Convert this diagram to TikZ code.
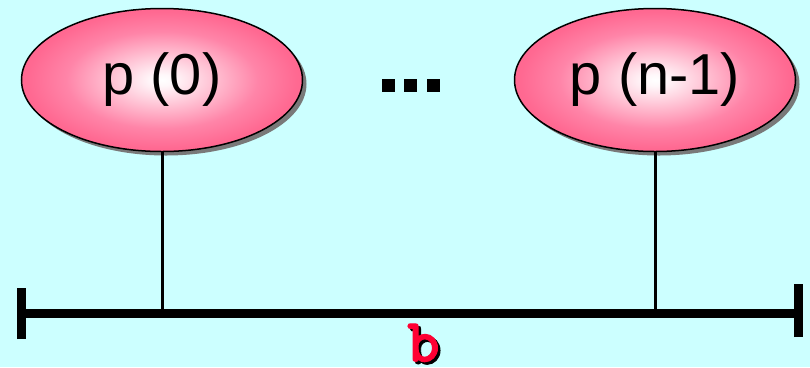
\documentclass[tikz,border=0pt]{standalone}
\usepackage{fontspec}
\setmainfont{Liberation Sans}
\newfontfamily\courb{lmmonolt10-bold.otf}[FakeBold=1.5]
\usetikzlibrary{shapes.geometric}
\definecolor{bgc}{RGB}{204,255,255}
\definecolor{pinkc}{RGB}{255,102,143}
\definecolor{redc}{RGB}{255,0,51}
\pgfdeclareradialshading{pinkglow}{\pgfpoint{0bp}{0bp}}{%
  rgb(0bp)=(1,1,1); rgb(2bp)=(1,0.97,0.98); rgb(9bp)=(1,0.76,0.83); rgb(17bp)=(1,0.52,0.66); rgb(24bp)=(1,0.41,0.57); rgb(50bp)=(1,0.39,0.56)}
\tikzset{
  proc/.style={ellipse, draw=black, line width=1.5bp, minimum width=281bp, minimum height=143bp,
    inner sep=0pt, shading=pinkglow, font=\fontsize{58}{62}\selectfont},
  shadowell/.style={ellipse, fill=gray!95!black, minimum width=281bp, minimum height=143bp, inner sep=0pt},
  link/.style={line width=3bp},
  bar/.style={line width=9bp},
  dotsq/.style={fill=black, minimum size=13bp, inner sep=0pt},
  blabel/.style={font=\courb\fontsize{62}{66}\selectfont, anchor=base, inner sep=0pt}
}
\begin{document}
\begin{tikzpicture}[x=1bp,y=-1bp]
\fill[bgc] (0,0) rectangle (810,367);
\useasboundingbox (0,0) rectangle (810,367);
% shadows
\node[shadowell] (s0) at (166,84) {};
\node[shadowell] (s1) at (659,84) {};
% processes
\node[proc] (p0) at (162,80) {p (0)};
\node[proc] (p1) at (655,80) {p (n-1)};
% dots
\node[dotsq] (d1) at (388.5,85) {};
\node[dotsq] (d2) at (410.5,85) {};
\node[dotsq] (d3) at (433.5,85) {};
% bar
\coordinate (bl) at (17,313);
\coordinate (br) at (803,313);
\coordinate (q0) at (p0.south |- bl);
\coordinate (q1) at (p1.south |- bl);
\draw[link] (p0.south) -- (q0);
\draw[link] (p1.south) -- (q1);
\draw[bar] (bl) -- (br);
\draw[bar] ([xshift=4.5bp,yshift=-26bp]bl) -- ([xshift=4.5bp,yshift=25bp]bl);
\draw[bar] ([xshift=-4.5bp,yshift=-24bp]br) -- ([xshift=-4.5bp,yshift=29bp]br);
% label b
\node[blabel, text=black] (bs) at (426,364) {b};
\node[blabel, text=redc] (b) at (423.5,361.5) {b};
\end{tikzpicture}
\end{document}
